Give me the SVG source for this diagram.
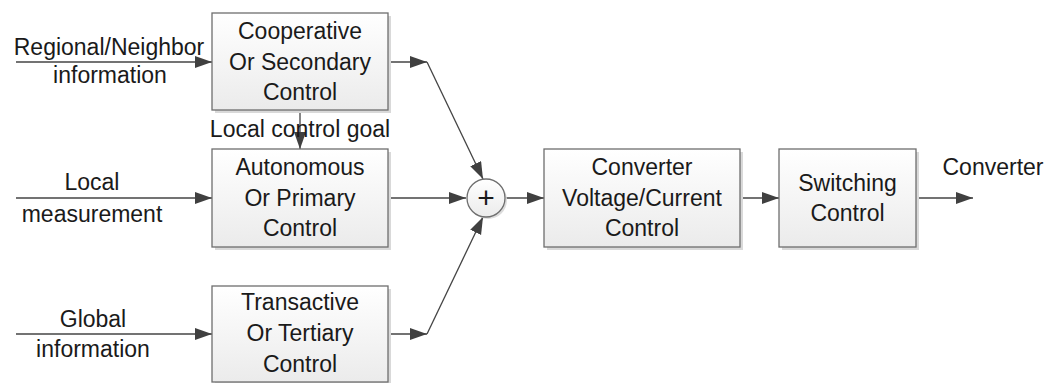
<svg xmlns="http://www.w3.org/2000/svg" width="1049" height="383" viewBox="0 0 1049 383">
<style>
text{font-family:"Liberation Sans",Arial,sans-serif;font-size:23px;fill:#1a1a1a;text-anchor:middle}
.box{fill:url(#g);stroke:#6e6e6e;stroke-width:1.3}
.sh{fill:#d9d9d9}
.c{fill:none;stroke:#444;stroke-width:1.3;marker-end:url(#ah)}
</style>
<defs>
<linearGradient id="g" x1="0" y1="0" x2="0" y2="1">
<stop offset="0" stop-color="#ffffff"/>
<stop offset="1" stop-color="#ebebeb"/>
</linearGradient>
<marker id="ah" markerUnits="userSpaceOnUse" markerWidth="18" markerHeight="13" refX="17" refY="6" orient="auto">
<path d="M0,0 L17,6 L0,12 z" fill="#404040"/>
</marker>
</defs>
<rect width="1049" height="383" fill="#fff"/>
<g id="connectors">
<path class="c" d="M16,62 H212"/>
<path class="c" d="M16,198 H212"/>
<path class="c" d="M16,334 H212"/>
<path class="c" d="M300,110 V149"/>
<path class="c" d="M388,62 H427"/>
<path class="c" d="M427,62 L483,179"/>
<path class="c" d="M388,198 H466"/>
<path class="c" d="M388,334 H427"/>
<path class="c" d="M427,334 L483,217"/>
<path class="c" d="M505,198 H544"/>
<path class="c" d="M740,198 H779"/>
<path class="c" d="M916,198 H973"/>
<text x="109" y="55">Regional/Neighbor</text>
<text x="110" y="83">information</text>
<text x="92" y="190">Local</text>
<text x="92" y="222">measurement</text>
<text x="93" y="327">Global</text>
<text x="93" y="357">information</text>
<text x="300" y="137">Local control goal</text>
<text x="993" y="175">Converter</text>
</g>
<g id="cooperative">
<rect class="sh" x="215" y="16" width="176" height="97"/>
<rect class="box" x="212" y="13" width="176" height="97"/>
<text x="300" y="39">Cooperative</text>
<text x="300" y="70">Or Secondary</text>
<text x="300" y="100">Control</text>
</g>
<g id="autonomous">
<rect class="sh" x="215" y="152" width="176" height="98"/>
<rect class="box" x="212" y="149" width="176" height="98"/>
<text x="300" y="175">Autonomous</text>
<text x="300" y="206">Or Primary</text>
<text x="300" y="236">Control</text>
</g>
<g id="transactive">
<rect class="sh" x="215" y="289" width="176" height="97"/>
<rect class="box" x="212" y="286" width="176" height="96"/>
<text x="300" y="310">Transactive</text>
<text x="300" y="341">Or Tertiary</text>
<text x="300" y="372">Control</text>
</g>
<g id="sum">
<circle cx="488" cy="200" r="19" fill="#dcdcdc"/>
<circle class="box" cx="486" cy="198" r="19"/>
<text x="486" y="208" style="font-size:30px">+</text>
</g>
<g id="converter">
<rect class="sh" x="547" y="152" width="196" height="98"/>
<rect class="box" x="544" y="149" width="196" height="98"/>
<text x="642" y="175">Converter</text>
<text x="642" y="206">Voltage/Current</text>
<text x="642" y="236">Control</text>
</g>
<g id="switching">
<rect class="sh" x="782" y="152" width="137" height="98"/>
<rect class="box" x="779" y="149" width="137" height="98"/>
<text x="847.5" y="191">Switching</text>
<text x="847.5" y="221">Control</text>
</g>
</svg>
